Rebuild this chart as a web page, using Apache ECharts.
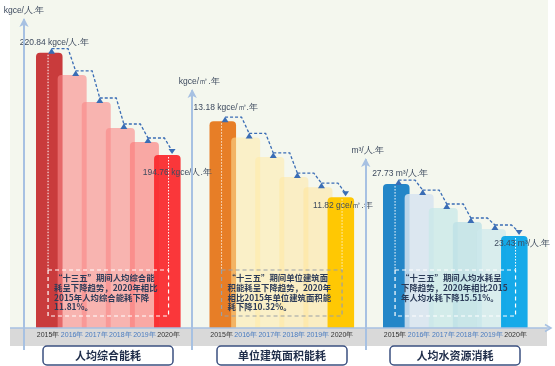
<!DOCTYPE html>
<html>
<head>
<meta charset="utf-8">
<script src="https://cdn.jsdelivr.net/npm/echarts@6/dist/echarts.min.js"></script>
<style>
html,body{margin:0;padding:0;background:#fff;}
#chart{width:555px;height:366px;}
</style>
</head>
<body>
<div id="chart"></div>
<script>
// ---------- data ----------
const years = ['2015年', '2016年', '2017年', '2018年', '2019年', '2020年'];
const energyPerCapita = [220.84, 215.16, 208.27, 201.64, 198.07, 194.76];
const energyPerArea = [13.18, 12.89, 12.54, 12.18, 12.00, 11.82];
const waterPerCapita = [27.73, 26.90, 25.75, 24.59, 24.01, 23.43];
const axisUnits = ['kgce/人.年', 'kgce/㎡.年', 'm³/人.年'];
const firstLabelUnits = ['kgce/人.年', 'kgce/㎡.年', 'm³/人.年'];
const lastLabelUnits = ['kgce/人.年', 'gce/㎡.年', 'm³/人.年'];
const panelTitles = ['人均综合能耗', '单位建筑面积能耗', '人均水资源消耗'];
const notes = [
  '“十三五”期间人均综合能\n耗呈下降趋势，2020年相比\n2015年人均综合能耗下降\n11.81%。',
  '“十三五”期间单位建筑面\n积能耗呈下降趋势，2020年\n相比2015年单位建筑面积能\n耗下降10.32%。',
  '“十三五”期间人均水耗呈\n下降趋势，2020年相比2015\n年人均水耗下降15.51%。'
];
const seriesValues = [energyPerCapita, energyPerArea, waterPerCapita];

// ---------- layout / style ----------
const AXIS_BOTTOM = 328;
const panels = [
  { left: 36, top: 20, min: 150.66, max: 229.17, offset: 12, axisX: 24,
    colors: ['#c93b3c', 'rgba(250,135,135,0.6)', 'rgba(250,135,135,0.6)', 'rgba(250,135,135,0.6)', 'rgba(252,120,118,0.62)', 'rgba(250,40,44,0.93)'],
    first: { pos: 'top', dist: 6, off: [5, 0] }, last: { pos: 'insideTop', dist: 5, off: [10, 8] },
    boxStroke: '#ffffff', dotColor: '#ffffff', namePad: [0, 0, 0, 0], titleX: 43 },
  { left: 209.5, top: 91, min: 9.48, max: 13.72, offset: 17.3, axisX: 192,
    colors: ['#e77e27', 'rgba(255,233,162,0.5)', 'rgba(255,233,162,0.5)', 'rgba(255,230,155,0.5)', 'rgba(255,228,150,0.5)', '#ffc803'],
    first: { pos: 'top', dist: 9, off: [3, 0] }, last: { pos: 'insideTop', dist: 4, off: [2, 0] },
    boxStroke: '#9aa0a6', dotColor: 'rgba(255,255,255,0.8)', namePad: [0, 0, 0, 14], titleX: 217 },
  { left: 383, top: 160, min: 15.82, max: 29.72, offset: 17.3, axisX: 366,
    colors: ['#2386c8', 'rgba(215,228,240,0.85)', 'rgba(200,232,232,0.75)', 'rgba(190,225,230,0.8)', 'rgba(205,232,236,0.7)', 'rgba(10,165,232,0.95)'],
    first: { pos: 'top', dist: 6, off: [4, 0] }, last: { pos: 'insideTop', dist: 3, off: [8, 0] },
    boxStroke: '#ffffff', dotColor: '#ffffff', namePad: [0, 0, 0, 4], titleX: 390 }
];
const PLOT_W = 144.6;
const textColor = '#3d4a5e';
const lineBlue = '#a7c1e2';

const grid = [], xAxis = [], yAxis = [], series = [];

panels.forEach((p, k) => {
  const vals = seriesValues[k];
  grid.push({ left: p.left, width: PLOT_W, top: p.top, bottom: 366 - AXIS_BOTTOM, containLabel: false });
  xAxis.push({
    gridIndex: k, type: 'category', data: years,
    axisLine: { show: false }, axisTick: { show: false },
    axisLabel: {
      interval: 0, fontSize: 7, margin: 4, fontFamily: 'Liberation Sans, Arial, sans-serif',
      color: (v, i) => (i === 0 || i === years.length - 1) ? '#333333' : '#4a7cc0'
    },
    z: 20
  });
  yAxis.push({
    gridIndex: k, type: 'value', min: p.min, max: p.max, offset: p.offset,
    axisLine: { show: true, symbol: ['none', 'arrow'], symbolSize: [7, 9], symbolOffset: [0, 2],
      lineStyle: { color: lineBlue, width: 2 } },
    axisTick: { show: false }, axisLabel: { show: false }, splitLine: { show: false },
    name: axisUnits[k], nameLocation: 'end', nameGap: 5,
    nameTextStyle: { color: textColor, fontSize: 8.5, fontFamily: 'Liberation Sans, Arial, sans-serif', padding: p.namePad },
    z: 15
  });
  const last = vals.length - 1;
  series.push({
    type: 'bar', xAxisIndex: k, yAxisIndex: k, barWidth: 29,
    data: vals.map((v, i) => {
      const item = { value: v, itemStyle: { color: p.colors[i], borderRadius: [4, 4, 0, 0] } };
      if (i === 0 || i === last) {
        const cfg = i === 0 ? p.first : p.last;
        const unit = i === 0 ? firstLabelUnits[k] : lastLabelUnits[k];
        item.label = {
          show: true, position: cfg.pos, distance: cfg.dist, offset: cfg.off,
          formatter: () => v.toFixed(2) + ' ' + unit,
          color: textColor, fontSize: 8.5, fontFamily: 'Liberation Sans, Arial, sans-serif'
        };
      }
      return item;
    }),
    z: 2
  });
  // dashed connectors between bar tops
  series.push({
    type: 'custom', xAxisIndex: k, yAxisIndex: k, z: 10, silent: true,
    data: vals.slice(0, last).map((v, i) => [i, v, vals[i + 1]]),
    renderItem: (params, api) => {
      const i = api.value(0);
      const a = api.coord([i, api.value(1)]);
      const b = api.coord([i + 1, api.value(2)]);
      const dx = 3.5, rise = 4;
      const col = '#3a6db5';
      const children = [{
        type: 'polyline',
        shape: { points: [[a[0] + dx, a[1] - rise], [a[0] + 20, a[1] - rise], [b[0] + dx, b[1] - rise]] },
        style: { stroke: col, lineWidth: 1.3, lineDash: [3, 2], fill: null }
      }];
      const tri = (c, down) => ({
        type: 'polygon',
        shape: { points: down
          ? [[c[0] + dx - 3.5, c[1] - 6], [c[0] + dx + 3.5, c[1] - 6], [c[0] + dx, c[1] - 1]]
          : [[c[0] + dx - 3.5, c[1] + 1], [c[0] + dx + 3.5, c[1] + 1], [c[0] + dx, c[1] - 4.5]] },
        style: { fill: col }
      });
      if (i === 0) children.push(tri(a, false));
      children.push(tri(b, i + 1 === last));
      return { type: 'group', children };
    }
  });
  // annotation box with guide lines
  series.push({
    type: 'custom', xAxisIndex: k, yAxisIndex: k, z: 11, silent: true,
    data: [[0, last, vals[0], vals[last]]],
    renderItem: (params, api) => {
      const a = api.coord([api.value(0), api.value(2)]);
      const b = api.coord([api.value(1), api.value(3)]);
      const boxTop = 270, boxBottom = 316;
      return {
        type: 'group', children: [
          { type: 'line', shape: { x1: a[0], y1: a[1] + 2, x2: a[0], y2: boxTop },
            style: { stroke: p.dotColor, lineWidth: 1, lineDash: [1.5, 1.5] } },
          { type: 'line', shape: { x1: b[0], y1: b[1] + 2, x2: b[0], y2: boxTop },
            style: { stroke: p.dotColor, lineWidth: 1, lineDash: [1.5, 1.5] } },
          { type: 'rect', shape: { x: a[0], y: boxTop, width: b[0] - a[0], height: boxBottom - boxTop },
            style: { fill: null, stroke: p.boxStroke, lineWidth: 1.2, lineDash: [4, 3] } },
          { type: 'text', x: a[0] + 6, y: boxTop + 3,
            style: { text: notes[k], fill: '#2c3b58', fontSize: 8.4, fontWeight: 'bold',
              fontFamily: 'Noto Sans CJK SC', lineHeight: 9.8 } }
        ]
      };
    }
  });
});

const graphic = [
  { type: 'rect', z: -10, silent: true, shape: { x: 10, y: 0, width: 538, height: AXIS_BOTTOM }, style: { fill: '#f4f7ee' } },
  { type: 'rect', z: -9, silent: true, shape: { x: 10, y: AXIS_BOTTOM, width: 537, height: 18 }, style: { fill: '#d9d9d9' } },
  { type: 'line', z: 30, silent: true, shape: { x1: 10, y1: AXIS_BOTTOM, x2: 550, y2: AXIS_BOTTOM }, style: { stroke: lineBlue, lineWidth: 1.5 } },
  { type: 'polyline', z: 30, silent: true, shape: { points: [[545, AXIS_BOTTOM - 3.5], [551, AXIS_BOTTOM], [545, AXIS_BOTTOM + 3.5]] }, style: { stroke: lineBlue, lineWidth: 1.5, fill: null } }
];
panels.forEach((p, k) => {
  graphic.push({ type: 'line', z: 30, silent: true, shape: { x1: p.axisX, y1: AXIS_BOTTOM - 1, x2: p.axisX, y2: 350 }, style: { stroke: lineBlue, lineWidth: 2 } });
  graphic.push({ type: 'rect', z: 30, silent: true, shape: { x: p.titleX, y: 346, width: 130, height: 19, r: 4 },
    style: { fill: '#ffffff', stroke: '#3b5080', lineWidth: 1.5 } });
  graphic.push({ type: 'text', z: 31, silent: true, x: p.titleX + 65, y: 356,
    style: { text: panelTitles[k], fill: '#1f2d4a', fontSize: 11, fontWeight: 'bold', fontFamily: 'Noto Sans CJK SC',
      textAlign: 'center', textVerticalAlign: 'middle' } });
});

const chart = echarts.init(document.getElementById('chart'), null, { renderer: 'canvas' });
chart.setOption({
  animation: false,
  backgroundColor: '#ffffff',
  grid, xAxis, yAxis, series, graphic
});
</script>
</body>
</html>
